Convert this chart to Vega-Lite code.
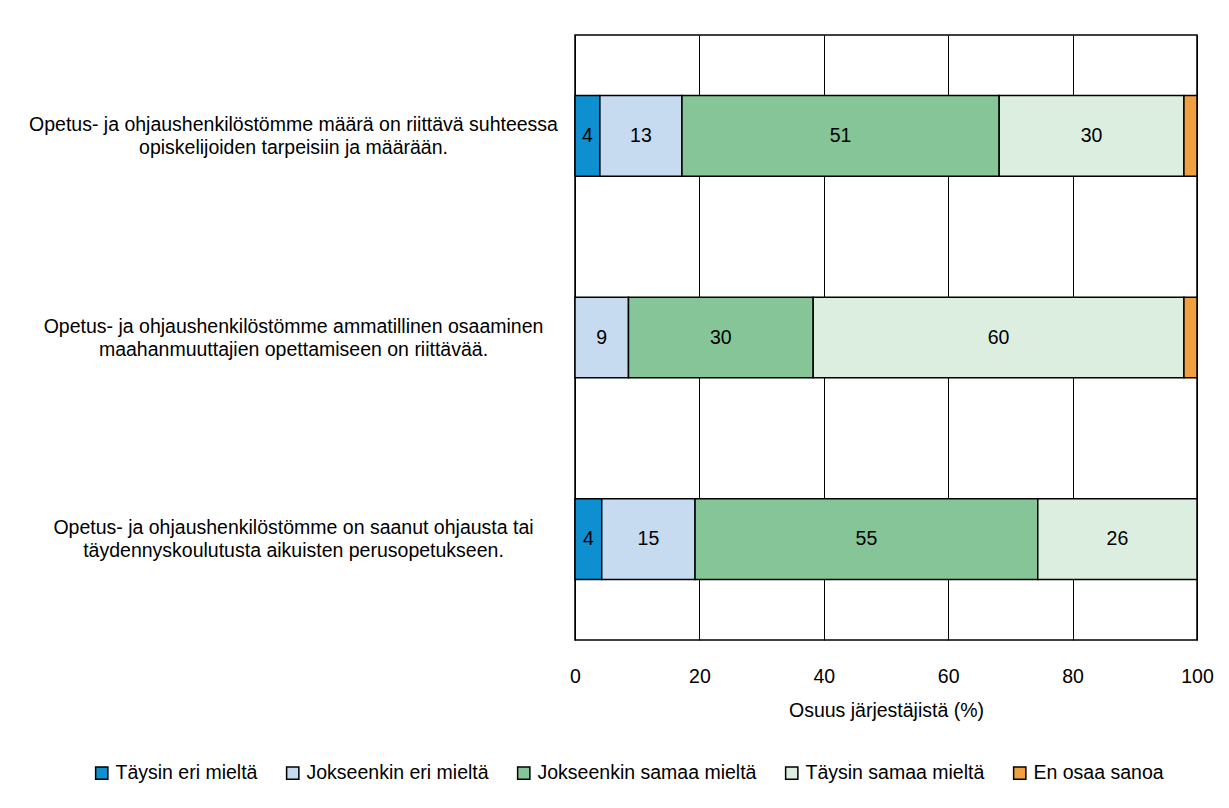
{
  "$schema": "https://vega.github.io/schema/vega-lite/v6.json",
  "width": 622,
  "height": 605,
  "autosize": {"type": "none"},
  "padding": {"left": 575, "top": 35, "right": 32, "bottom": 168},
  "background": "white",
  "config": {
    "font": "Liberation Sans",
    "view": {"stroke": "black", "strokeWidth": 1.5},
    "axis": {"labelColor": "black", "titleColor": "black"}
  },
  "data": {
    "values": [
      {"kysymys": "Opetus- ja ohjaushenkilöstömme määrä on riittävä suhteessa|opiskelijoiden tarpeisiin ja määrään.", "vastaus": "Täysin eri mieltä", "jarj": 1, "arvo": 4.0},
      {"kysymys": "Opetus- ja ohjaushenkilöstömme määrä on riittävä suhteessa|opiskelijoiden tarpeisiin ja määrään.", "vastaus": "Jokseenkin eri mieltä", "jarj": 2, "arvo": 13.2},
      {"kysymys": "Opetus- ja ohjaushenkilöstömme määrä on riittävä suhteessa|opiskelijoiden tarpeisiin ja määrään.", "vastaus": "Jokseenkin samaa mieltä", "jarj": 3, "arvo": 51.0},
      {"kysymys": "Opetus- ja ohjaushenkilöstömme määrä on riittävä suhteessa|opiskelijoiden tarpeisiin ja määrään.", "vastaus": "Täysin samaa mieltä", "jarj": 4, "arvo": 29.7},
      {"kysymys": "Opetus- ja ohjaushenkilöstömme määrä on riittävä suhteessa|opiskelijoiden tarpeisiin ja määrään.", "vastaus": "En osaa sanoa", "jarj": 5, "arvo": 2.1},
      {"kysymys": "Opetus- ja ohjaushenkilöstömme ammatillinen osaaminen|maahanmuuttajien opettamiseen on riittävää.", "vastaus": "Jokseenkin eri mieltä", "jarj": 2, "arvo": 8.6},
      {"kysymys": "Opetus- ja ohjaushenkilöstömme ammatillinen osaaminen|maahanmuuttajien opettamiseen on riittävää.", "vastaus": "Jokseenkin samaa mieltä", "jarj": 3, "arvo": 29.7},
      {"kysymys": "Opetus- ja ohjaushenkilöstömme ammatillinen osaaminen|maahanmuuttajien opettamiseen on riittävää.", "vastaus": "Täysin samaa mieltä", "jarj": 4, "arvo": 59.6},
      {"kysymys": "Opetus- ja ohjaushenkilöstömme ammatillinen osaaminen|maahanmuuttajien opettamiseen on riittävää.", "vastaus": "En osaa sanoa", "jarj": 5, "arvo": 2.1},
      {"kysymys": "Opetus- ja ohjaushenkilöstömme on saanut ohjausta tai|täydennyskoulutusta aikuisten perusopetukseen.", "vastaus": "Täysin eri mieltä", "jarj": 1, "arvo": 4.3},
      {"kysymys": "Opetus- ja ohjaushenkilöstömme on saanut ohjausta tai|täydennyskoulutusta aikuisten perusopetukseen.", "vastaus": "Jokseenkin eri mieltä", "jarj": 2, "arvo": 15.0},
      {"kysymys": "Opetus- ja ohjaushenkilöstömme on saanut ohjausta tai|täydennyskoulutusta aikuisten perusopetukseen.", "vastaus": "Jokseenkin samaa mieltä", "jarj": 3, "arvo": 55.1},
      {"kysymys": "Opetus- ja ohjaushenkilöstömme on saanut ohjausta tai|täydennyskoulutusta aikuisten perusopetukseen.", "vastaus": "Täysin samaa mieltä", "jarj": 4, "arvo": 25.6}
    ]
  },
  "encoding": {
    "y": {
      "field": "kysymys",
      "type": "nominal",
      "sort": null,
      "scale": {"paddingInner": 0.6, "paddingOuter": 0.3},
      "axis": {
        "title": null,
        "domain": false,
        "ticks": false,
        "labelAlign": "center",
        "labelBaseline": "middle",
        "labelPadding": 282,
        "labelOffset": -11,
        "labelLimit": 0,
        "labelFontSize": 19.5,
        "labelLineHeight": 23,
        "labelExpr": "split(datum.label, '|')"
      }
    }
  },
  "layer": [
    {
      "mark": {"type": "bar", "stroke": "black", "strokeWidth": 1.5},
      "encoding": {
        "x": {
          "field": "arvo",
          "type": "quantitative",
          "stack": "zero",
          "scale": {"domain": [0, 100], "nice": false},
          "axis": {
            "values": [0, 20, 40, 60, 80, 100],
            "grid": true,
            "gridColor": "black",
            "gridWidth": 1,
            "gridOpacity": 1,
            "domain": false,
            "ticks": false,
            "labelPadding": 27,
            "labelFontSize": 19.5,
            "labelFlush": false,
            "title": "Osuus järjestäjistä (%)",
            "titleFontSize": 19.5,
            "titleFontWeight": "normal",
            "titlePadding": 16
          }
        },
        "color": {
          "field": "vastaus",
          "type": "nominal",
          "scale": {
            "domain": ["Täysin eri mieltä", "Jokseenkin eri mieltä", "Jokseenkin samaa mieltä", "Täysin samaa mieltä", "En osaa sanoa"],
            "range": ["#0E8FD0", "#C6DBF0", "#86C598", "#DBEEE0", "#F0A040"]
          },
          "legend": {
            "title": null,
            "orient": "none",
            "direction": "horizontal",
            "legendX": -483,
            "legendY": 728,
            "symbolType": "square",
            "symbolSize": 150,
            "symbolStrokeColor": "black",
            "symbolStrokeWidth": 1.5,
            "labelFontSize": 19.5,
            "labelColor": "black",
            "labelOffset": 4,
            "labelLimit": 0,
            "columnPadding": 25
          }
        },
        "order": {"field": "jarj", "type": "quantitative"}
      }
    },
    {
      "mark": {"type": "text", "fontSize": 19.5, "color": "black", "baseline": "middle", "align": "center"},
      "encoding": {
        "x": {"field": "arvo", "type": "quantitative", "stack": "zero", "bandPosition": 0.5},
        "detail": {"field": "vastaus"},
        "order": {"field": "jarj", "type": "quantitative"},
        "text": {
          "condition": {"test": "datum.arvo < 3", "value": ""},
          "field": "arvo",
          "type": "quantitative",
          "format": ".0f"
        }
      }
    }
  ]
}
